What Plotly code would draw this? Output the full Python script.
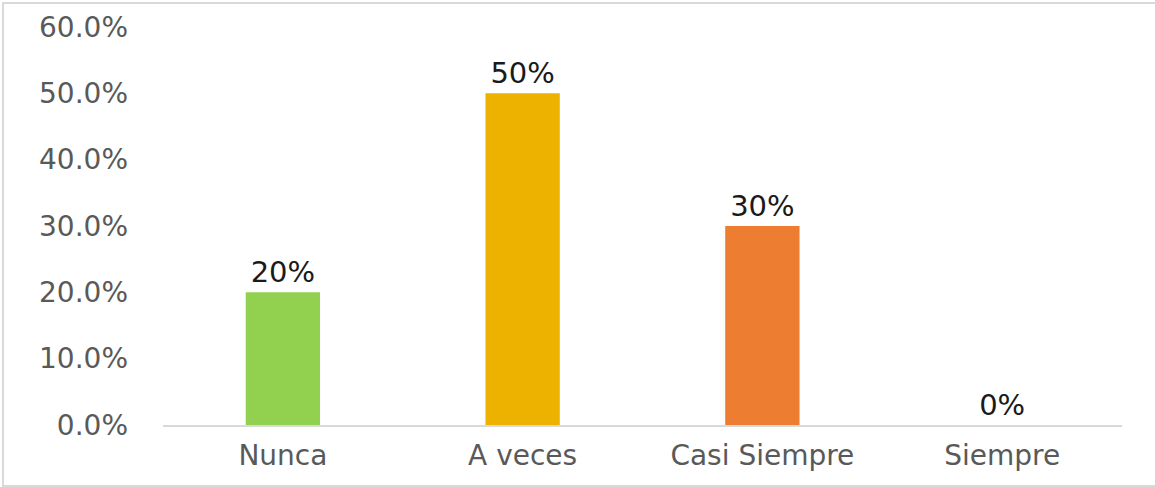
import plotly.graph_objects as go

categories = ["Nunca", "A veces", "Casi Siempre", "Siempre"]
values = [0.20, 0.50, 0.30, 0.0]
labels = ["20%", "50%", "30%", "0%"]
colors = ["#92D050", "#EDB200", "#ED7D31", "#A5A5A5"]
y_ticks = [0.0, 0.1, 0.2, 0.3, 0.4, 0.5, 0.6]

W, H = 1155, 487
ml, mr, mt, mb = 163, 33, 27, 62
pw, ph = W - ml - mr, H - mt - mb

fig = go.Figure(
    go.Bar(
        x=categories,
        y=values,
        marker=dict(color=colors, line=dict(width=0)),
        width=0.31,
        text=labels,
        textposition="outside",
        cliponaxis=False,
        textfont=dict(family="DejaVu Sans", size=29, color="#1a1a1a"),
    )
)

fig.update_layout(
    width=W,
    height=H,
    margin=dict(l=ml, r=mr, t=mt, b=mb, autoexpand=False),
    paper_bgcolor="white",
    plot_bgcolor="white",
    showlegend=False,
    bargap=0.69,
    font=dict(family="DejaVu Sans", size=28, color="#595959"),
    xaxis=dict(
        automargin=False,
        showgrid=False,
        showline=True,
        linecolor="#D9D9D9",
        linewidth=1.5,
        ticks="",
        ticklabelstandoff=5,
        tickfont=dict(size=28, color="#595959"),
    ),
    yaxis=dict(
        automargin=False,
        range=[0, 0.6],
        tickvals=y_ticks,
        tickformat=".1%",
        showgrid=False,
        zeroline=False,
        showline=False,
        ticks="",
        ticklabelstandoff=34,
        tickfont=dict(size=28, color="#595959"),
    ),
    shapes=[
        dict(
            type="rect",
            xref="paper",
            yref="paper",
            x0=(3 - ml) / pw,
            x1=(W + 40 - ml) / pw,
            y0=(H - mb - 486) / ph,
            y1=(H - mb - 3) / ph,
            line=dict(color="#D9D9D9", width=2),
            fillcolor="rgba(0,0,0,0)",
            layer="below",
        )
    ],
)

fig.write_html("out.html")
